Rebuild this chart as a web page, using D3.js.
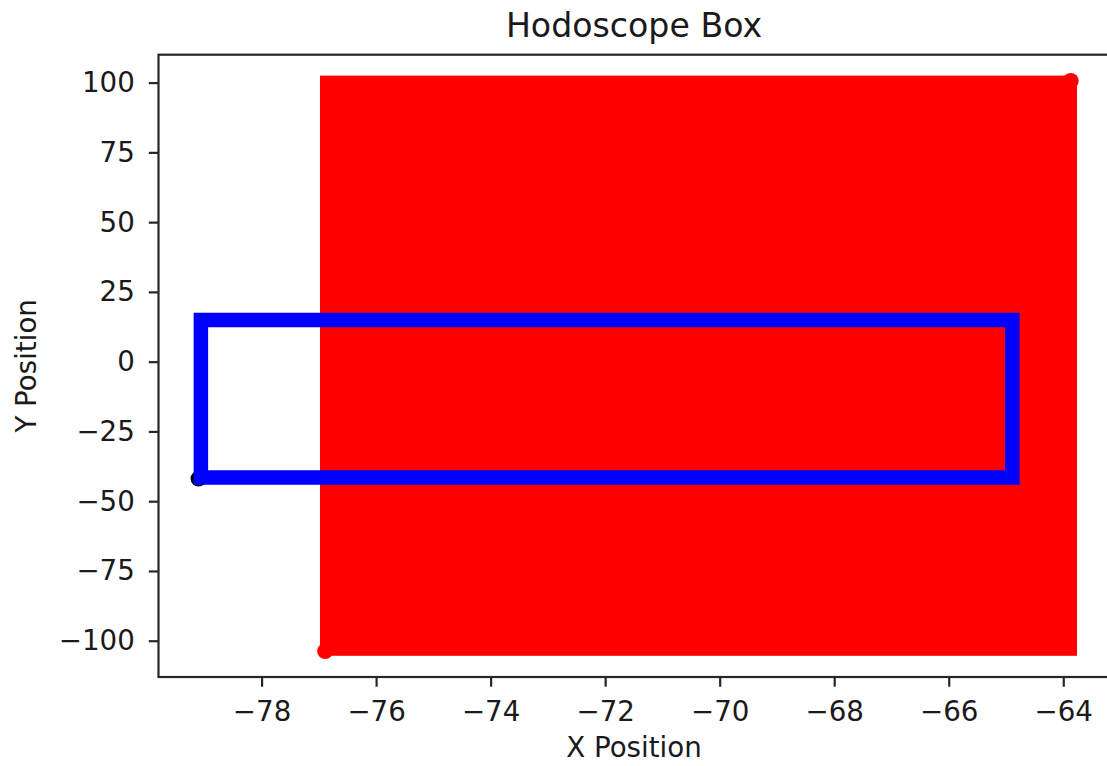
<!DOCTYPE html>
<html>
<head>
<meta charset="utf-8">
<script src="https://cdn.jsdelivr.net/npm/d3@7"></script>
<style>
    body { margin: 0; background: #fff; }
    svg text { font-family: "DejaVu Sans", sans-serif; fill: #1a1a1a; }
</style>
</head>
<body>
<svg id="chart" width="1107" height="766"></svg>
<script>
// axis ticks
var xTicks = [-78, -76, -74, -72, -70, -68, -66, -64];
var yTicks = [-100, -75, -50, -25, 0, 25, 50, 75, 100];

// hodoscope hits (dense scatter, shown as filled area) : [x0, x1], [y0, y1]
var hitsX = [-76.98, -63.76];
var hitsY = [-105.4, 102.5];
// outlying hits at the corners
var hitPoints = [[-76.89, -103.7], [-63.87, 100.6]];

// box outline (closed path)
var boxX = [-79.06, -64.89, -64.89, -79.06, -79.06];
var boxY = [-41.5, -41.5, 14.95, 14.95, -41.5];
var boxStart = [[-79.10, -41.9]];

var svg = d3.select("#chart");
// plot area edges (window.top is read only, so no bare "top")
var pLeft = 158.5, pTop = 54.7, pBottom = 677, pRight = 1114.8;

var x = d3.scaleLinear().domain([-79.8, -63.1]).range([pLeft, pRight]);
var y = d3.scaleLinear().domain([-113.0, 110.0]).range([pBottom, pTop]);

var g = svg.append("g");

// red hits
g.append("rect")
    .attr("x", x(hitsX[0]))
    .attr("y", y(hitsY[1]))
    .attr("width", x(hitsX[1]) - x(hitsX[0]))
    .attr("height", y(hitsY[0]) - y(hitsY[1]))
    .attr("fill", "#ff0000");
g.selectAll(".hit")
    .data(hitPoints)
    .enter()
    .append("circle")
        .attr("class", "hit")
        .attr("cx", function(d) { return x(d[0]); })
        .attr("cy", function(d) { return y(d[1]); })
        .attr("r", 8)
        .attr("fill", "#ff0000");

// start marker under the outline
g.selectAll(".start")
    .data(boxStart)
    .enter()
    .append("circle")
        .attr("class", "start")
        .attr("cx", function(d) { return x(d[0]); })
        .attr("cy", function(d) { return y(d[1]); })
        .attr("r", 8)
        .attr("fill", "#000");

var line = d3.line()
    .x(function(d) { return x(d[0]); })
    .y(function(d) { return y(d[1]); });
g.append("path")
    .datum(boxX.map(function(v, i) { return [v, boxY[i]]; }))
    .attr("d", function(d) { return line(d) + "Z"; })
    .attr("fill", "none")
    .attr("stroke", "#0000ff")
    .attr("stroke-width", 14.5)
    .attr("stroke-linejoin", "miter");

// axes
var minus = function(d) { return d3.format("d")(d).replace("-", "\u2212"); };
var xAxis = svg.append("g")
    .attr("transform", "translate(0," + pBottom + ")")
    .call(d3.axisBottom(x).tickValues(xTicks).tickSize(9.7).tickPadding(15).tickFormat(minus));
var yAxis = svg.append("g")
    .attr("transform", "translate(" + pLeft + ",0)")
    .call(d3.axisLeft(y).tickValues(yTicks).tickSize(9.7).tickPadding(14).tickFormat(minus));

[xAxis, yAxis].forEach(function(a) {
    a.select(".domain").remove();
    a.selectAll(".tick line").attr("stroke", "#262626").attr("stroke-width", 2.2);
    a.selectAll(".tick text")
        .attr("font-family", "DejaVu Sans, sans-serif")
        .attr("font-size", 27.7)
        .attr("fill", "#1a1a1a");
});

// spines
svg.append("rect")
    .attr("x", pLeft)
    .attr("y", pTop)
    .attr("width", pRight - pLeft)
    .attr("height", pBottom - pTop)
    .attr("fill", "none")
    .attr("stroke", "#262626")
    .attr("stroke-width", 2.2);

// labels
svg.append("text")
    .attr("x", 634)
    .attr("y", 37)
    .attr("text-anchor", "middle")
    .attr("font-size", 33.2)
    .text("Hodoscope Box");
svg.append("text")
    .attr("x", 634)
    .attr("y", 757)
    .attr("text-anchor", "middle")
    .attr("font-size", 27.7)
    .text("X Position");
svg.append("text")
    .attr("transform", "translate(36," + ((pTop + pBottom) / 2) + ") rotate(-90)")
    .attr("text-anchor", "middle")
    .attr("font-size", 27.7)
    .text("Y Position");
</script>
</body>
</html>
